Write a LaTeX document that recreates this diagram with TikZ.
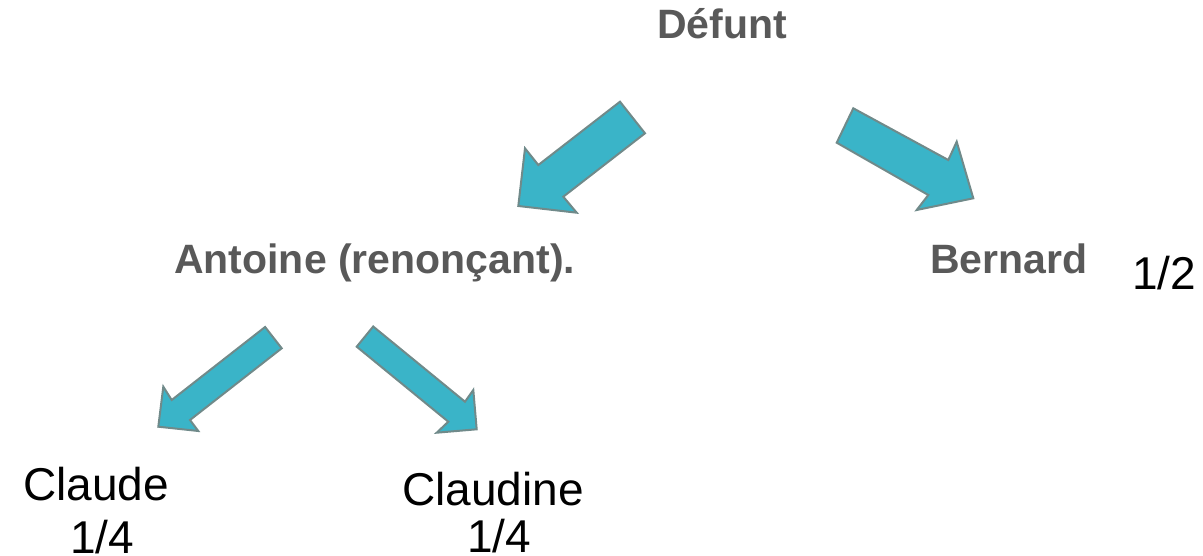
\documentclass[tikz,border=0pt]{standalone}
\usepackage{fontspec}
\setmainfont{Liberation Sans}
\definecolor{heirgray}{RGB}{89,89,89}
\definecolor{arrowfill}{RGB}{58,180,200}
\definecolor{arrowedge}{RGB}{112,138,138}
\begin{document}
\begin{tikzpicture}[x=1pt,y=-1pt,
  person/.style={inner sep=0pt,anchor=base,text=heirgray,
    font=\fontsize{41}{49}\selectfont\bfseries},
  share/.style={inner sep=0pt,anchor=base,text=black,
    font=\fontsize{46}{53}\selectfont},
  blockarrow/.style={fill=arrowfill,draw=arrowedge,line width=2pt,line join=miter}]
\useasboundingbox (0,0) rectangle (1203,556);

% names
\node[person] (defunt) at (722,39) {Défunt};
\node[person,anchor=base west] (antoine) at (174,274) {Antoine (renonçant).};
\node[person,anchor=base west] (bernard) at (930,274) {Bernard};
\node[share,anchor=base west] (bernardshare) at (1132,290) {1/2};
\node[share] (claude) at (96,500) {Claude};
\node[share] (claudeshare) at (102,553) {1/4};
\node[share] (claudine) at (493,505) {Claudine};
\node[share] (claudineshare) at (499,552) {1/4};

% block arrows of the succession
\draw[blockarrow] (620,101.7) -- (645,133.3) -- (563.3,196.7) -- (576.7,212.7)
  -- (518.3,206) -- (525,148.3) -- (538.3,165) -- cycle;
\draw[blockarrow] (853.3,108.3) -- (836.7,142.7) -- (928.3,195) -- (916.7,210)
  -- (973.3,198.3) -- (956.7,141.7) -- (948.3,160) -- cycle;
\draw[blockarrow] (265.1,327) -- (281.7,348.3) -- (190,420) -- (198.3,431)
  -- (158.3,426.7) -- (163.3,386.7) -- (171.7,400) -- cycle;
\draw[blockarrow] (373.2,326.5) -- (356.7,346.7) -- (448.3,421.7) -- (436.7,432.7)
  -- (476.7,429.3) -- (473.3,390) -- (465,401.7) -- cycle;
\end{tikzpicture}
\end{document}
